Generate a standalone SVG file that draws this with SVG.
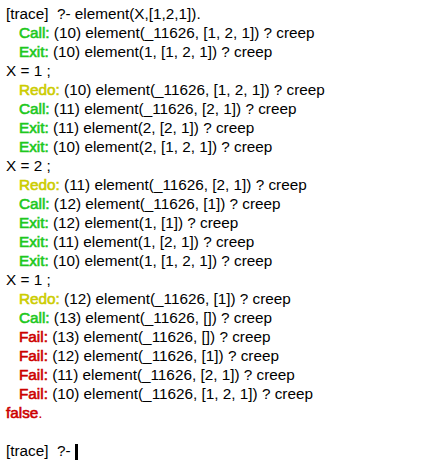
<svg xmlns="http://www.w3.org/2000/svg" width="422" height="467" viewBox="0 0 422 467">
<style>
text{font-family:"Liberation Sans",Arial,sans-serif;font-size:15.3px;fill:#000;white-space:pre}
.call{fill:#1ec81e;stroke:#1ec81e;stroke-width:0.6px}
.redo{fill:#cccc00;stroke:#cccc00;stroke-width:0.6px}
.fail{fill:#cc0000;stroke:#cc0000;stroke-width:0.6px}
.false{fill:#cc0000;stroke:#cc0000;stroke-width:0.6px}
</style>
<rect width="422" height="467" fill="#fff"/>
<g id="trace" xml:space="preserve">
<text x="6" y="19">[trace]  ?- element(X,[1,2,1]).</text>
<text x="19" y="38"><tspan class="call">Call:</tspan> (10) element(_11626, [1, 2, 1]) ? creep</text>
<text x="19" y="57"><tspan class="call">Exit:</tspan> (10) element(1, [1, 2, 1]) ? creep</text>
<text x="6" y="76">X = 1 ;</text>
<text x="19" y="95"><tspan class="redo">Redo:</tspan> (10) element(_11626, [1, 2, 1]) ? creep</text>
<text x="19" y="114"><tspan class="call">Call:</tspan> (11) element(_11626, [2, 1]) ? creep</text>
<text x="19" y="133"><tspan class="call">Exit:</tspan> (11) element(2, [2, 1]) ? creep</text>
<text x="19" y="152"><tspan class="call">Exit:</tspan> (10) element(2, [1, 2, 1]) ? creep</text>
<text x="6" y="171">X = 2 ;</text>
<text x="19" y="190"><tspan class="redo">Redo:</tspan> (11) element(_11626, [2, 1]) ? creep</text>
<text x="19" y="209"><tspan class="call">Call:</tspan> (12) element(_11626, [1]) ? creep</text>
<text x="19" y="228"><tspan class="call">Exit:</tspan> (12) element(1, [1]) ? creep</text>
<text x="19" y="247"><tspan class="call">Exit:</tspan> (11) element(1, [2, 1]) ? creep</text>
<text x="19" y="266"><tspan class="call">Exit:</tspan> (10) element(1, [1, 2, 1]) ? creep</text>
<text x="6" y="285">X = 1 ;</text>
<text x="19" y="304"><tspan class="redo">Redo:</tspan> (12) element(_11626, [1]) ? creep</text>
<text x="19" y="323"><tspan class="call">Call:</tspan> (13) element(_11626, []) ? creep</text>
<text x="19" y="342"><tspan class="fail">Fail:</tspan> (13) element(_11626, []) ? creep</text>
<text x="19" y="361"><tspan class="fail">Fail:</tspan> (12) element(_11626, [1]) ? creep</text>
<text x="19" y="380"><tspan class="fail">Fail:</tspan> (11) element(_11626, [2, 1]) ? creep</text>
<text x="19" y="399"><tspan class="fail">Fail:</tspan> (10) element(_11626, [1, 2, 1]) ? creep</text>
<text x="6" y="418"><tspan class="false">false</tspan><tspan fill="#cc0000">.</tspan></text>
<text x="6" y="456">[trace]  ?- </text>
<rect id="cursor" x="75" y="444" width="3" height="16" fill="#000"/>
</g>
</svg>
